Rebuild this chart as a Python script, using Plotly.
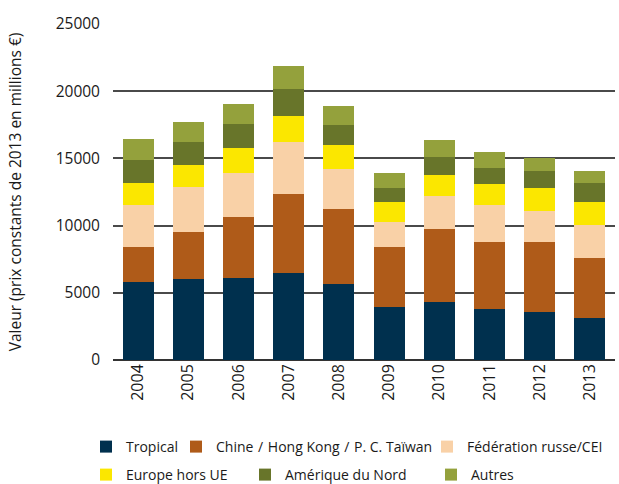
import plotly.graph_objects as go

years = ["2004", "2005", "2006", "2007", "2008", "2009", "2010", "2011", "2012", "2013"]
tropical = [5780, 6000, 6130, 6470, 5630, 3920, 4290, 3795, 3545, 3100]
chine = [2650, 3520, 4490, 5850, 5580, 4510, 5480, 5010, 5260, 4490]
russie = [3075, 3325, 3300, 3920, 2975, 1835, 2455, 2705, 2305, 2455]
europe = [1690, 1690, 1835, 1935, 1785, 1465, 1565, 1560, 1710, 1685]
amerique = [1690, 1660, 1785, 1960, 1490, 1090, 1340, 1215, 1215, 1440]
autres = [1590, 1510, 1510, 1710, 1440, 1090, 1240, 1215, 965, 870]

series = [
    ("Tropical", tropical, "#00304E"),
    ("Chine\u2004/\u2004Hong Kong\u2004/\u2004P. C. Taïwan", chine, "#AF5B19"),
    ("Fédération russe/CEI", russie, "#F9D1A7"),
    ("Europe hors UE", europe, "#FBE700"),
    ("Amérique du Nord", amerique, "#68752A"),
    ("Autres", autres, "#94A13C"),
]

FONT = "Open Sans"
W, H = 619, 484
# legend text left positions (px) and row centers (px)
leg_pos = [(126, 447), (216, 447), (467, 447), (126, 475), (285, 475), (471, 475)]

fig = go.Figure()
layout_legends = {}
for i, (name, vals, col) in enumerate(series):
    lname = "legend" if i == 0 else f"legend{i+1}"
    fig.add_trace(go.Bar(x=years, y=vals, name=name, marker=dict(color=col, line=dict(width=0)),
                         legend=lname))
    tx, ty = leg_pos[i]
    layout_legends[lname] = dict(
        xref="container", yref="container",
        x=(tx - 40) / W, y=1 - ty / H, xanchor="left", yanchor="middle",
        orientation="h", bgcolor="rgba(0,0,0,0)", borderwidth=0,
        font=dict(family=FONT, size=14, color="#1a1a1a"),
        itemwidth=30, tracegroupgap=0,
    )

fig.update_layout(
    width=W, height=H,
    barmode="stack", bargap=0.38,
    plot_bgcolor="white", paper_bgcolor="white",
    margin=dict(l=113, r=4, t=24, b=124, autoexpand=False),
    font=dict(family=FONT, size=15, color="#1a1a1a"),
    showlegend=True,
    **layout_legends,
)
fig.update_xaxes(tickangle=-90, showgrid=False, ticks="", showline=False, automargin=False,
                 tickfont=dict(family=FONT, size=16))
fig.update_yaxes(range=[0, 25000], dtick=5000, tickformat="d", showgrid=True,
                 gridcolor="#4a4a4a", gridwidth=1.5, automargin=False,
                 zeroline=True, zerolinecolor="#333333", zerolinewidth=1.8,
                 tickfont=dict(family=FONT, size=15.5), ticks="", ticklabelstandoff=12,
                 title=dict(text="Valeur (prix constants de 2013 en millions €)",
                            font=dict(family=FONT, size=15.5), standoff=30))

fig.write_html("out.html", config={"displayModeBar": False},
               post_script="document.body.style.margin='0';")
